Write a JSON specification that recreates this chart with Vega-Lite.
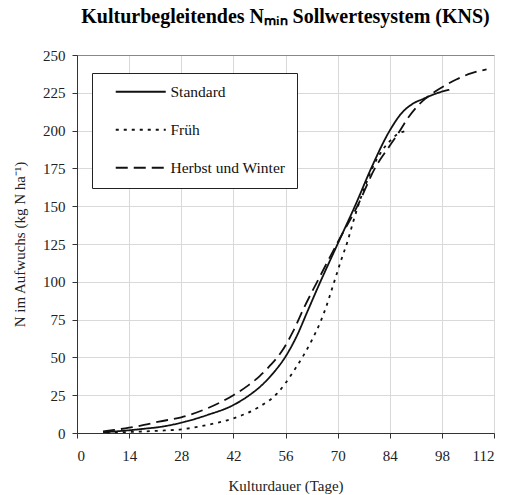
{
  "$schema": "https://vega.github.io/schema/vega-lite/v6.json",
  "width": 417,
  "height": 378,
  "autosize": {"type": "none"},
  "padding": {"left": 77, "top": 55, "right": 18, "bottom": 62},
  "background": "white",
  "title": {
    "text": "Kulturbegleitendes Nₘᵢₙ Sollwertesystem (KNS)",
    "font": "Liberation Serif",
    "fontSize": 20,
    "fontWeight": "bold",
    "color": "black",
    "anchor": "middle",
    "frame": "group",
    "offset": 21
  },
  "config": {
    "view": {"stroke": null},
    "axis": {
      "labelFont": "Liberation Serif",
      "labelFontSize": 15,
      "labelColor": "#222",
      "titleFont": "Liberation Serif",
      "titleFontSize": 15,
      "titleFontWeight": "normal",
      "titleColor": "#222",
      "domainColor": "#333",
      "tickColor": "#333",
      "tickSize": 5,
      "gridColor": "#d9d9d9",
      "gridWidth": 1
    }
  },
  "data": {
    "values": [
      {"series": "Standard", "day": 7, "n": 0.5},
      {"series": "Standard", "day": 10, "n": 1.0},
      {"series": "Standard", "day": 14, "n": 1.8},
      {"series": "Standard", "day": 18, "n": 2.8},
      {"series": "Standard", "day": 22, "n": 3.9},
      {"series": "Standard", "day": 28, "n": 6.8},
      {"series": "Standard", "day": 35, "n": 11.9},
      {"series": "Standard", "day": 42, "n": 18.5},
      {"series": "Standard", "day": 46, "n": 24.5},
      {"series": "Standard", "day": 50, "n": 32.5},
      {"series": "Standard", "day": 53, "n": 40.5},
      {"series": "Standard", "day": 56, "n": 50.5},
      {"series": "Standard", "day": 59, "n": 64},
      {"series": "Standard", "day": 62, "n": 81},
      {"series": "Standard", "day": 65, "n": 98},
      {"series": "Standard", "day": 70, "n": 125},
      {"series": "Standard", "day": 75, "n": 152},
      {"series": "Standard", "day": 79, "n": 175},
      {"series": "Standard", "day": 84, "n": 200},
      {"series": "Standard", "day": 87, "n": 211},
      {"series": "Standard", "day": 90, "n": 217.5},
      {"series": "Standard", "day": 93, "n": 221},
      {"series": "Standard", "day": 97, "n": 225},
      {"series": "Standard", "day": 100, "n": 227},
      {"series": "Früh", "day": 8, "n": 0.3},
      {"series": "Früh", "day": 14, "n": 0.7},
      {"series": "Früh", "day": 22, "n": 1.5},
      {"series": "Früh", "day": 28, "n": 2.4},
      {"series": "Früh", "day": 35, "n": 5.3},
      {"series": "Früh", "day": 42, "n": 9.7},
      {"series": "Früh", "day": 49, "n": 17.4},
      {"series": "Früh", "day": 53.7, "n": 26},
      {"series": "Früh", "day": 56, "n": 33},
      {"series": "Früh", "day": 59, "n": 44},
      {"series": "Früh", "day": 61, "n": 52},
      {"series": "Früh", "day": 63, "n": 61},
      {"series": "Früh", "day": 65.3, "n": 73},
      {"series": "Früh", "day": 67, "n": 84},
      {"series": "Früh", "day": 68.7, "n": 97},
      {"series": "Früh", "day": 70.9, "n": 114},
      {"series": "Früh", "day": 72.7, "n": 127},
      {"series": "Früh", "day": 74.1, "n": 139},
      {"series": "Früh", "day": 75.6, "n": 151},
      {"series": "Früh", "day": 77.5, "n": 164},
      {"series": "Früh", "day": 79.3, "n": 175},
      {"series": "Früh", "day": 82, "n": 187},
      {"series": "Früh", "day": 84, "n": 193},
      {"series": "Früh", "day": 86, "n": 197.5},
      {"series": "Früh", "day": 88.8, "n": 200},
      {"series": "Herbst und Winter", "day": 7, "n": 1},
      {"series": "Herbst und Winter", "day": 10, "n": 2},
      {"series": "Herbst und Winter", "day": 14, "n": 3.5},
      {"series": "Herbst und Winter", "day": 18, "n": 5.3},
      {"series": "Herbst und Winter", "day": 22, "n": 7.5},
      {"series": "Herbst und Winter", "day": 28, "n": 10.4},
      {"series": "Herbst und Winter", "day": 35, "n": 16.3},
      {"series": "Herbst und Winter", "day": 42, "n": 25},
      {"series": "Herbst und Winter", "day": 46, "n": 31.5},
      {"series": "Herbst und Winter", "day": 49, "n": 37.5},
      {"series": "Herbst und Winter", "day": 52, "n": 45},
      {"series": "Herbst und Winter", "day": 55, "n": 54},
      {"series": "Herbst und Winter", "day": 58, "n": 67},
      {"series": "Herbst und Winter", "day": 61, "n": 83},
      {"series": "Herbst und Winter", "day": 64.5, "n": 100},
      {"series": "Herbst und Winter", "day": 70, "n": 126},
      {"series": "Herbst und Winter", "day": 75.5, "n": 151},
      {"series": "Herbst und Winter", "day": 80, "n": 175},
      {"series": "Herbst und Winter", "day": 84, "n": 190},
      {"series": "Herbst und Winter", "day": 86.5, "n": 199},
      {"series": "Herbst und Winter", "day": 88.5, "n": 207},
      {"series": "Herbst und Winter", "day": 91, "n": 215},
      {"series": "Herbst und Winter", "day": 93.5, "n": 221},
      {"series": "Herbst und Winter", "day": 96, "n": 225.5},
      {"series": "Herbst und Winter", "day": 99, "n": 230},
      {"series": "Herbst und Winter", "day": 102, "n": 234},
      {"series": "Herbst und Winter", "day": 106, "n": 238},
      {"series": "Herbst und Winter", "day": 110, "n": 240.5}
    ]
  },
  "mark": {"type": "line", "interpolate": "monotone", "strokeWidth": 1.8, "color": "#111"},
  "encoding": {
    "x": {
      "field": "day",
      "type": "quantitative",
      "scale": {"domain": [0, 112], "nice": false, "zero": false},
      "axis": {
        "values": [0, 14, 28, 42, 56, 70, 84, 98, 112],
        "title": "Kulturdauer (Tage)",
        "labelPadding": 10,
        "titlePadding": 15
      }
    },
    "y": {
      "field": "n",
      "type": "quantitative",
      "scale": {"domain": [0, 250], "nice": false},
      "axis": {
        "values": [0, 25, 50, 75, 100, 125, 150, 175, 200, 225, 250],
        "title": "N im Aufwuchs (kg N ha⁻¹)",
        "labelPadding": 7,
        "titlePadding": 15,
        "gridColor": {"condition": {"test": "datum.value === 250", "value": "#888"}, "value": "#d9d9d9"}
      }
    },
    "strokeDash": {
      "field": "series",
      "type": "nominal",
      "scale": {
        "domain": ["Standard", "Früh", "Herbst und Winter"],
        "range": [[1, 0], [3, 5], [12, 6]]
      },
      "legend": {
        "title": null,
        "orient": "none",
        "legendX": 15,
        "legendY": 18,
        "symbolType": "M1,0H11",
        "symbolSize": 100,
        "symbolStrokeWidth": 2,
        "symbolStrokeColor": "#111",
        "labelOffset": 52,
        "labelFont": "Liberation Serif",
        "labelFontSize": 15.5,
        "labelColor": "#111",
        "labelLimit": 300,
        "labelExpr": "datum.value == 'Herbst und Winter' ? '\u2002Herbst und Winter\u2003\u2003' : datum.label",
        "rowPadding": 21,
        "padding": 11,
        "strokeColor": "#222",
        "fillColor": "white",
        "cornerRadius": 0
      }
    }
  }
}
